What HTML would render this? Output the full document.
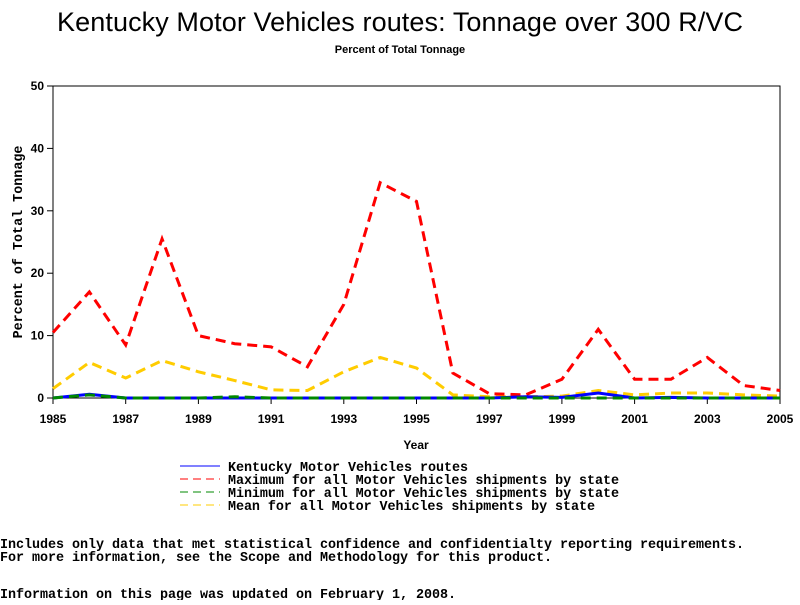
<!DOCTYPE html>
<html><head><meta charset="utf-8"><style>
body{margin:0;background:#fff;width:800px;height:600px;overflow:hidden}
svg text{font-family:"Liberation Sans",sans-serif}
.m{font-family:"Liberation Mono",monospace;font-size:13.4px;font-weight:bold}
</style></head><body>
<svg width="800" height="600">
<text x="400" y="31" text-anchor="middle" font-size="27" textLength="686">Kentucky Motor Vehicles routes: Tonnage over 300 R/VC</text>
<text x="400" y="53" text-anchor="middle" font-size="11" font-weight="bold">Percent of Total Tonnage</text>
<rect x="53" y="86" width="727" height="312" fill="none" stroke="#000"/>
<g id="axes"></g>
<g id="series"></g>
<text x="416" y="449" text-anchor="middle" font-size="12" font-weight="bold">Year</text>
<text transform="translate(22,242) rotate(-90)" text-anchor="middle" class="m" font-size="12">Percent of Total Tonnage</text>
<g>
<line x1="180" y1="466" x2="220" y2="466" stroke="#00f"/>
<text x="228" y="471" class="m" textLength="240">Kentucky Motor Vehicles routes</text>
<line x1="180" y1="479" x2="220" y2="479" stroke="#f00" stroke-dasharray="8,5"/>
<text x="228" y="484" class="m" textLength="391">Maximum for all Motor Vehicles shipments by state</text>
<line x1="180" y1="492" x2="220" y2="492" stroke="#080" stroke-dasharray="8,5"/>
<text x="228" y="497" class="m" textLength="391">Minimum for all Motor Vehicles shipments by state</text>
<line x1="180" y1="505" x2="220" y2="505" stroke="#fc0" stroke-dasharray="8,5"/>
<text x="228" y="510" class="m" textLength="367">Mean for all Motor Vehicles shipments by state</text>
</g>
<text x="0" y="548" class="m" textLength="744">Includes only data that met statistical confidence and confidentialty reporting requirements.</text>
<text x="0" y="561" class="m" textLength="552">For more information, see the Scope and Methodology for this product.</text>
<text x="0" y="598" class="m" textLength="456">Information on this page was updated on February 1, 2008.</text>
</svg>
<script>
const years=[1985,1986,1987,1988,1989,1990,1991,1992,1993,1994,1995,1996,1997,1998,1999,2000,2001,2002,2003,2004,2005];
const maxVals=[10.5,17,8.5,25.5,10,8.7,8.2,5,15,34.5,31.5,4,0.7,0.5,3,11,3,3,6.5,2,1.2];
const meanVals=[1.5,5.7,3.2,6,4.2,2.8,1.3,1.2,4.2,6.5,4.8,0.5,0.2,0.2,0.3,1.2,0.5,0.8,0.8,0.5,0.3];
const minVals=[0,0.5,0,0,0,0.2,0,0,0,0,0,0,0,0,0,0,0,0,0,0,0];
const kyVals=[0,0.6,0,0,0,0,0,0,0,0,0,0,0,0.2,0.1,0.8,0,0.1,0,0,0];
const yTicks=[0,10,20,30,40,50];
const xTicks=[1985,1987,1989,1991,1993,1995,1997,1999,2001,2003,2005];
const NS="http://www.w3.org/2000/svg";
const X=v=>53+(v-1985)*(727/20), Y=v=>398-v*312/50;
const ax=document.getElementById('axes'), sg=document.getElementById('series');
function mk(t,a,p){const e=document.createElementNS(NS,t);for(const k in a)e.setAttribute(k,a[k]);p.appendChild(e);return e;}
yTicks.forEach(v=>{
 const l=mk('line',{x1:47,x2:53,y1:Y(v),y2:Y(v),stroke:'#000'},ax);
 
 
 const t=mk('text',{x:44,y:Y(v)+4,'text-anchor':'end','font-size':12,'font-weight':'bold'},ax);t.textContent=v;
 
 
});
xTicks.forEach(v=>{
 const l=mk('line',{x1:X(v),x2:X(v),y1:398,y2:404,stroke:'#000'},ax);
 
 
 const t=mk('text',{x:X(v),y:423,'text-anchor':'middle','font-size':12,'font-weight':'bold'},ax);t.textContent=v;
 
 
});
function line(vals,color,dash,name){
 const p=mk('polyline',{points:vals.map((v,i)=>X(years[i])+','+Y(v)).join(' '),fill:'none',stroke:color,'stroke-width':3,'stroke-dasharray':dash},sg);
 
 
}
line(meanVals,'#fc0','10,6','series-mean');
line(maxVals,'#f00','10,6','series-max');
line(kyVals,'#00f','none','series-kentucky');
line(minVals,'#080','10,6','series-min');
</script>
</body></html>
